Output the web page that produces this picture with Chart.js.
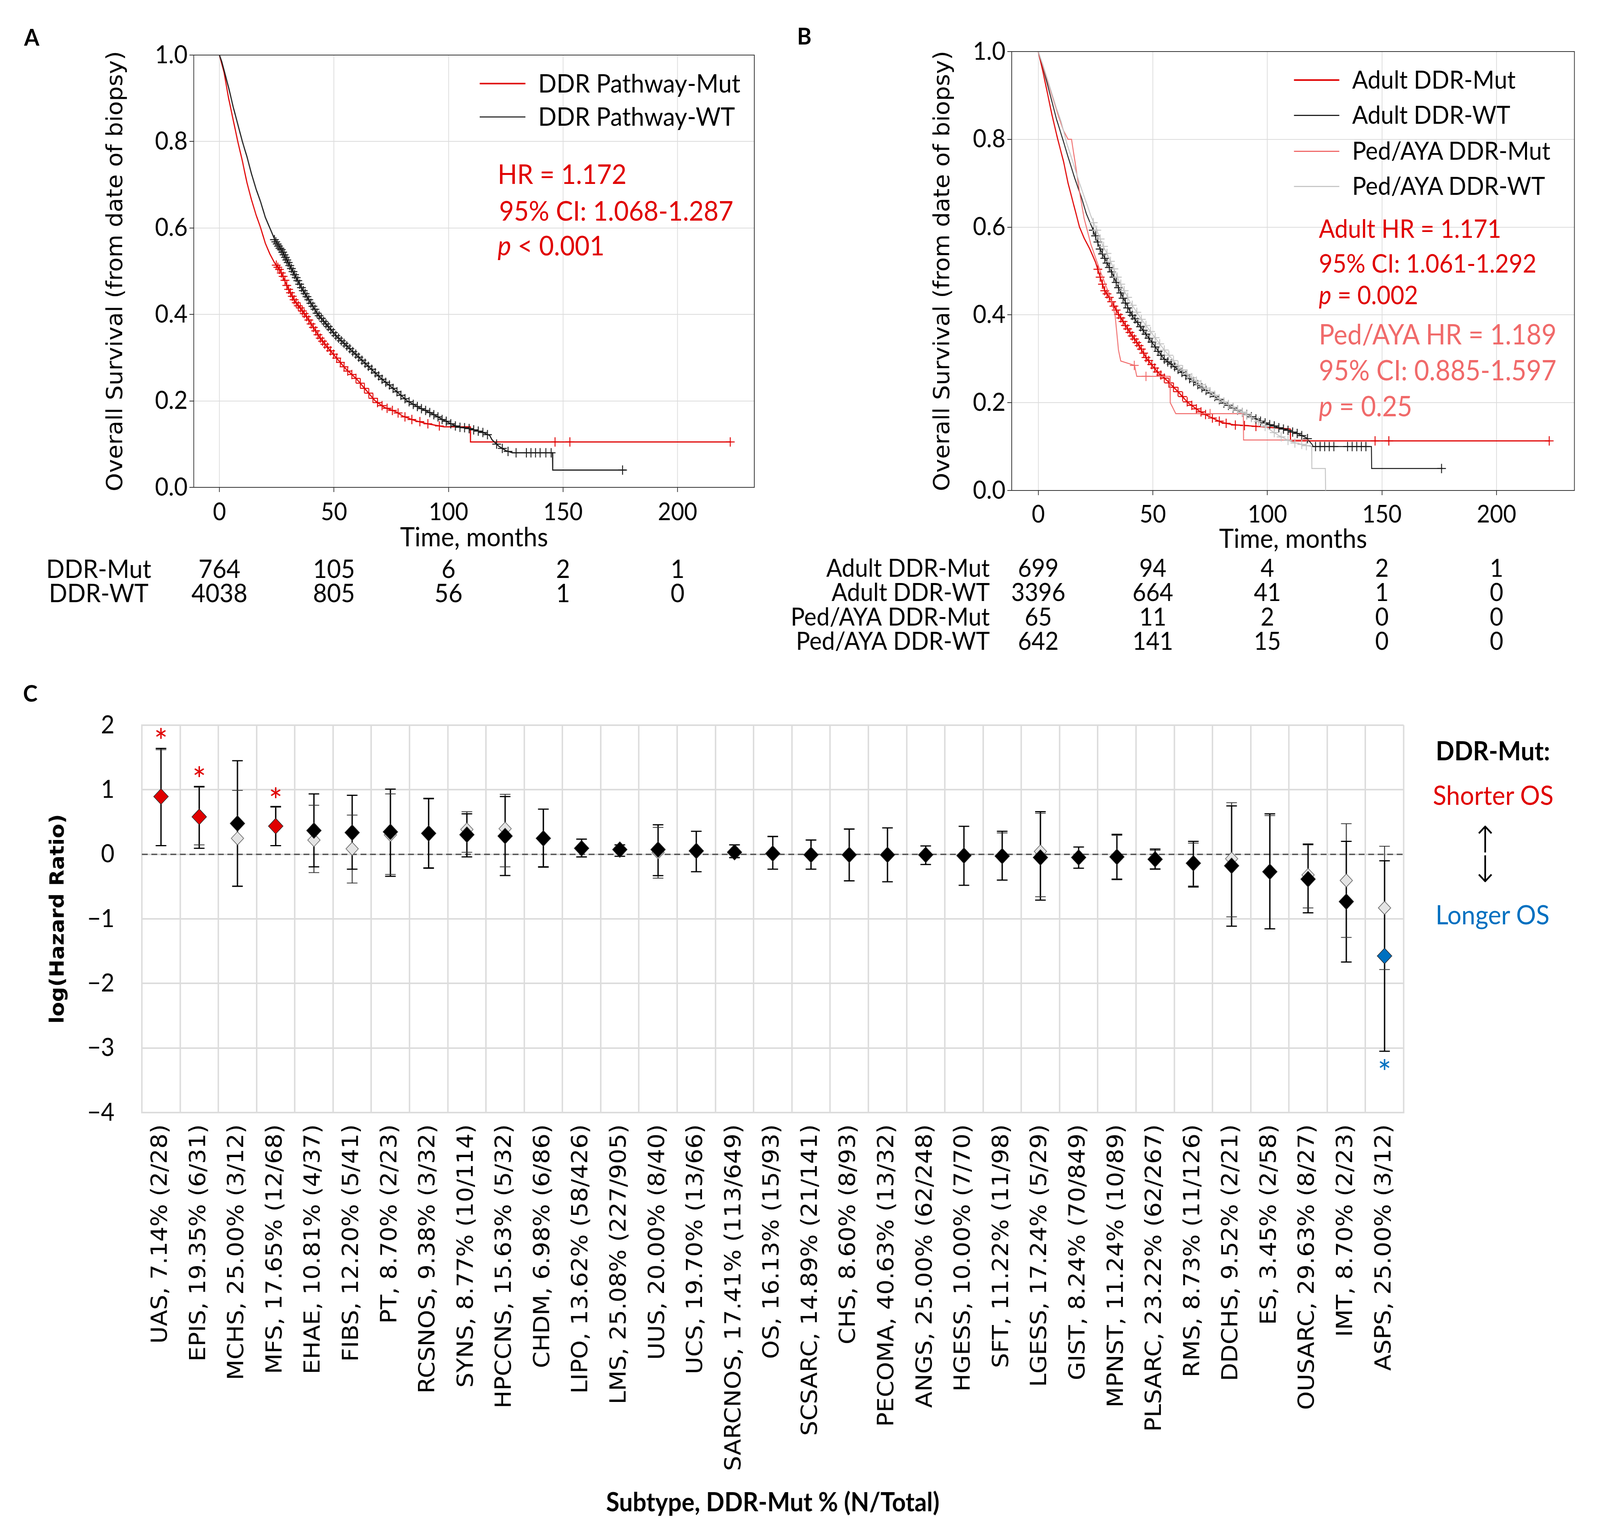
<!DOCTYPE html>
<html><head><meta charset="utf-8">
<script src="https://cdn.jsdelivr.net/npm/chart.js@4.4.1/dist/chart.umd.min.js"></script>
<style>
html,body{margin:0;padding:0;background:#fff;overflow:hidden;}
#wrap{width:4376px;height:3941px;position:absolute;left:0;top:0;overflow:hidden;font-family:Lato,sans-serif;transform-origin:0 0;background:#fff;}
canvas{position:absolute;}
.t{position:absolute;white-space:nowrap;line-height:1;font-family:Lato,sans-serif;}
.ln{position:absolute;}
</style></head><body>
<div id="wrap">
<canvas id="cA" width="2188" height="1700" style="left:0;top:0;width:2188px;height:1700px"></canvas>
<canvas id="cB" width="2288" height="1700" style="left:2088px;top:0;width:2288px;height:1700px"></canvas>
<canvas id="cC" width="4376" height="2201" style="left:0;top:1740px;width:4376px;height:2201px"></canvas>

<div class="t" style="left:66px;top:64px;font-size:60px;font-weight:bold;">A</div>
<div class="t" style="left:2180px;top:61px;font-size:60px;font-weight:bold;">B</div>
<div class="t" style="left:63px;top:1744px;font-size:60px;font-weight:bold;">C</div>

<div class="ln" style="left:1312px;top:212px;width:125px;height:4px;background:#e00000"></div>
<div class="t" style="left:1472px;top:179px;font-size:66px;">DDR Pathway-Mut</div>
<div class="ln" style="left:1312px;top:298px;width:125px;height:3px;background:#333"></div>
<div class="t" style="left:1472px;top:264px;font-size:66px;">DDR Pathway-WT</div>
<div class="t" style="left:1361px;top:409px;font-size:70px;color:#e00000;">HR = 1.172</div>
<div class="t" style="left:1365px;top:503px;font-size:70px;color:#e00000;">95% CI: 1.068-1.287</div>
<div class="t" style="left:1361px;top:592px;font-size:70px;color:#e00000;"><i>p</i> &lt; 0.001</div>

<div class="ln" style="left:3539px;top:203px;width:124px;height:4px;background:#e00000"></div>
<div class="t" style="left:3698px;top:171px;font-size:64px;">Adult DDR-Mut</div>
<div class="ln" style="left:3539px;top:294px;width:124px;height:3px;background:#222"></div>
<div class="t" style="left:3698px;top:261px;font-size:64px;">Adult DDR-WT</div>
<div class="ln" style="left:3539px;top:386px;width:124px;height:3px;background:#f06a6a"></div>
<div class="t" style="left:3698px;top:353px;font-size:64px;">Ped/AYA DDR-Mut</div>
<div class="ln" style="left:3539px;top:476px;width:124px;height:3px;background:#c8c8c8"></div>
<div class="t" style="left:3698px;top:443px;font-size:64px;">Ped/AYA DDR-WT</div>
<div class="t" style="left:3607px;top:552px;font-size:65px;color:#e00000;">Adult HR = 1.171</div>
<div class="t" style="left:3607px;top:641px;font-size:65px;color:#e00000;">95% CI: 1.061-1.292</div>
<div class="t" style="left:3607px;top:722px;font-size:65px;color:#e00000;"><i>p</i> = 0.002</div>
<div class="t" style="left:3607px;top:819px;font-size:71px;color:#f06a6a;">Ped/AYA HR = 1.189</div>
<div class="t" style="left:3607px;top:911px;font-size:71px;color:#f06a6a;">95% CI: 0.885-1.597</div>
<div class="t" style="left:3607px;top:1003px;font-size:71px;color:#f06a6a;"><i>p</i> = 0.25</div>

<div class="t" style="left:3783px;width:600px;text-align:center;top:1888px;font-size:67px;font-weight:bold;">DDR-Mut:</div>
<div class="t" style="left:3784px;width:600px;text-align:center;top:2001px;font-size:68px;color:#e00000;">Shorter OS</div>
<div class="t" style="left:3762px;width:600px;text-align:center;top:2104px;font-size:94px;font-family:'DejaVu Sans',sans-serif;font-weight:200;">↑</div>
<div class="t" style="left:3762px;width:600px;text-align:center;top:2180px;font-size:94px;font-family:'DejaVu Sans',sans-serif;font-weight:200;">↓</div>
<div class="t" style="left:3782px;width:600px;text-align:center;top:2307px;font-size:68px;color:#0070c0;">Longer OS</div>
</div>

<script>
// fit the 4376x3941 layout exactly to the actual viewport
(function () {
  const sx = window.innerWidth / 4376, sy = window.innerHeight / 3941;
  if (Math.abs(sx - 1) > 0.002 || Math.abs(sy - 1) > 0.002) {
    document.getElementById('wrap').style.transform = 'scale(' + sx + ',' + sy + ')';
  }
})();

const kmXTicks = [0, 50, 100, 150, 200];
const kmYTicks = [0, 0.2, 0.4, 0.6, 0.8, 1.0];
const kmXTitle = 'Time, months';
const kmYTitle = 'Overall Survival (from date of biopsy)';

const curveA_mut = [[0,1],[1,0.98],[2,0.96],[4,0.9],[6,0.85],[8,0.8],[10,0.755],[12,0.705],[14,0.665],[16,0.63],[18,0.6],[20,0.565],[22,0.54],[24,0.52],[26.7,0.5],[30,0.46],[33,0.43],[36,0.41],[38,0.395],[41,0.37],[44,0.345],[47,0.325],[51,0.3],[55,0.275],[60,0.25],[64,0.225],[68,0.2],[72,0.185],[77,0.175],[80,0.165],[85,0.155],[90,0.148],[98,0.14],[109.5,0.14],[109.6,0.105],[223,0.105]];
const curveA_wt = [[0,1],[1,0.985],[2,0.965],[4,0.925],[6,0.88],[8,0.84],[10,0.8],[12,0.765],[14,0.725],[16,0.69],[18,0.66],[20,0.625],[22,0.6],[24,0.575],[27,0.55],[30,0.52],[33,0.49],[36,0.46],[40,0.425],[43,0.4],[47,0.375],[51,0.35],[56,0.325],[61,0.3],[66,0.275],[71,0.25],[76,0.228],[82,0.2],[87,0.185],[93,0.17],[98,0.155],[104,0.14],[110,0.135],[115,0.127],[118,0.12],[119,0.11],[122,0.095],[125,0.085],[128,0.08],[145.4,0.08],[145.5,0.04],[177.5,0.04]];
const censorA_mut = [[24.8,0.514],[25.5,0.509],[26.2,0.504],[27,0.496],[27.8,0.488],[28.6,0.479],[29.4,0.467],[30.2,0.458],[31,0.45],[31.8,0.442],[32.6,0.434],[33.5,0.427],[34.4,0.42],[35.3,0.415],[36.2,0.408],[37,0.402],[38,0.395],[39,0.387],[40,0.378],[41,0.37],[42,0.362],[43,0.353],[44,0.345],[45,0.338],[46,0.331],[47.2,0.324],[48.5,0.316],[49.8,0.308],[51.2,0.299],[52.8,0.289],[54.4,0.279],[56,0.269],[57.8,0.261],[59.6,0.252],[61.5,0.241],[63.3,0.229],[65.2,0.218],[67,0.206],[69,0.196],[71,0.189],[73.2,0.183],[75.5,0.178],[78,0.172],[81,0.163],[84,0.157],[87.5,0.152],[91,0.147],[96,0.142],[146.5,0.105],[153,0.105],[223,0.105]];
const censorA_wt = [[24,0.573],[24.6,0.568],[25.2,0.563],[25.8,0.558],[26.4,0.553],[27,0.55],[27.6,0.544],[28.2,0.538],[28.8,0.532],[29.4,0.526],[30,0.52],[30.7,0.513],[31.4,0.506],[32.1,0.499],[32.8,0.492],[33.5,0.485],[34.2,0.478],[35,0.47],[35.8,0.462],[36.6,0.455],[37.4,0.448],[38.2,0.441],[39,0.434],[39.9,0.426],[40.8,0.419],[41.7,0.412],[42.6,0.403],[43.5,0.397],[44.5,0.391],[45.5,0.384],[46.5,0.378],[47.5,0.372],[48.6,0.365],[49.7,0.358],[50.8,0.351],[52,0.345],[53.2,0.339],[54.4,0.333],[55.6,0.327],[56.9,0.321],[58.2,0.314],[59.5,0.308],[60.8,0.301],[62.2,0.294],[63.6,0.287],[65,0.28],[66.5,0.273],[68,0.265],[69.5,0.258],[71,0.25],[72.6,0.243],[74.2,0.237],[75.8,0.229],[77.5,0.221],[79.2,0.213],[81,0.205],[82.8,0.198],[84.6,0.192],[86.4,0.187],[88.2,0.182],[90,0.178],[91.8,0.173],[93.6,0.168],[95.4,0.163],[97.2,0.157],[99,0.153],[101,0.147],[103,0.142],[105,0.139],[107,0.138],[109,0.136],[111,0.133],[113,0.13],[115,0.127],[117,0.122],[121,0.1],[123.5,0.09],[126,0.083],[129.5,0.08],[134,0.08],[136,0.08],[138,0.08],[140,0.08],[142.5,0.08],[144.8,0.08],[176,0.04]];
const riskA_labels = ['DDR-Mut', 'DDR-WT'];
const riskA_mut = [764, 105, 6, 2, 1];
const riskA_wt = [4038, 805, 56, 1, 0];

const curveB_adultMut = [[0,1],[2,0.955],[4,0.905],[6,0.855],[8.5,0.8],[11,0.75],[13,0.7],[15.5,0.65],[18,0.6],[20,0.575],[22.5,0.55],[25,0.52],[27.4,0.48],[29,0.455],[31,0.44],[35.2,0.4],[40,0.36],[44,0.33],[47.4,0.3],[52,0.27],[56.3,0.25],[61,0.225],[65.3,0.2],[70,0.182],[74,0.17],[80,0.155],[85,0.15],[98,0.145],[110,0.14],[110.1,0.113],[223,0.113]];
const curveB_adultWt = [[0,1],[2,0.965],[4,0.925],[6,0.885],[8,0.845],[10.7,0.8],[13,0.76],[16,0.71],[19,0.665],[21,0.63],[23.4,0.6],[27,0.55],[31.8,0.5],[36,0.45],[40.8,0.4],[45,0.37],[50,0.335],[54.8,0.3],[60,0.28],[66,0.255],[72,0.232],[80.8,0.2],[88,0.18],[95,0.163],[100.9,0.15],[107,0.14],[113,0.13],[117,0.12],[119.5,0.105],[120,0.1],[145.4,0.1],[145.5,0.05],[176.5,0.05]];
const curveB_pedMut = [[0,1],[3,0.95],[6,0.9],[9,0.85],[11,0.82],[13,0.8],[14.5,0.8],[16,0.75],[18,0.68],[20,0.62],[23,0.56],[27,0.5],[30,0.46],[32,0.43],[33.5,0.4],[35,0.32],[36,0.295],[42,0.285],[43,0.26],[57.5,0.26],[57.6,0.2],[60,0.175],[89.5,0.175],[89.6,0.115],[118,0.115]];
const curveB_pedWt = [[0,1],[2,0.97],[5,0.92],[8,0.87],[10,0.84],[12.5,0.79],[15,0.75],[18,0.7],[20,0.67],[23,0.625],[25,0.6],[28,0.56],[30,0.54],[33,0.505],[35,0.48],[38,0.45],[40,0.43],[45,0.39],[50,0.355],[55,0.32],[60,0.29],[65,0.265],[70,0.245],[75,0.225],[80,0.205],[85,0.19],[90,0.175],[95,0.16],[100,0.142],[105,0.125],[110,0.112],[115,0.105],[119.3,0.1],[119.4,0.05],[125.3,0.05],[125.4,0]];
const censorB_adultMut = [[26,0.504],[27,0.486],[28,0.47],[29,0.455],[30,0.448],[31,0.44],[32,0.43],[33,0.42],[34,0.411],[35,0.401],[36,0.393],[37,0.385],[38,0.376],[39,0.368],[40,0.36],[41,0.352],[42,0.345],[43,0.337],[44,0.33],[45,0.322],[46,0.313],[47,0.303],[48.2,0.296],[49.5,0.287],[50.8,0.279],[52,0.27],[53.5,0.263],[55,0.256],[57,0.245],[59,0.235],[61,0.225],[63,0.214],[65,0.202],[67,0.194],[69,0.186],[71,0.179],[73,0.173],[76,0.165],[79,0.158],[82,0.153],[86,0.149],[90,0.148],[95,0.146],[147,0.113],[153,0.113],[223,0.113]];
const censorB_adultWt = [[24,0.593],[25,0.58],[26,0.566],[27,0.55],[28,0.539],[29,0.529],[30,0.518],[31,0.508],[32,0.498],[33,0.486],[34,0.474],[35,0.462],[36,0.45],[37,0.438],[38,0.427],[39,0.416],[40,0.406],[41,0.399],[42.2,0.391],[43.4,0.383],[44.6,0.373],[45.8,0.365],[47,0.356],[48.3,0.347],[49.6,0.338],[51,0.327],[52.3,0.317],[53.6,0.308],[55,0.299],[56.5,0.293],[58,0.288],[59.5,0.282],[61,0.276],[62.7,0.269],[64.4,0.262],[66,0.255],[67.8,0.248],[69.6,0.241],[71.4,0.234],[73.2,0.228],[75,0.222],[77,0.214],[79,0.207],[81,0.199],[83,0.194],[85,0.188],[87,0.183],[89,0.178],[91,0.173],[93,0.168],[95,0.163],[97,0.158],[99,0.154],[101,0.15],[103,0.147],[105,0.143],[107,0.14],[109,0.137],[111,0.133],[113,0.13],[115,0.125],[117.5,0.118],[121,0.1],[123,0.1],[125,0.1],[127,0.1],[129,0.1],[135,0.1],[137,0.1],[139,0.1],[141,0.1],[143,0.1],[176,0.05]];
const censorB_pedMut = [[41.9,0.285],[47,0.26],[75,0.175]];
const censorB_pedWt = [[24,0.61],[25.5,0.593],[27,0.573],[28.5,0.556],[30,0.54],[31.5,0.522],[33,0.505],[34.5,0.486],[36,0.47],[37.5,0.455],[39,0.44],[41,0.422],[43,0.406],[45,0.39],[47,0.376],[49,0.362],[51,0.348],[53,0.334],[55,0.32],[57,0.308],[59,0.296],[61,0.285],[63,0.275],[65,0.265],[67,0.257],[69,0.249],[71,0.241],[73,0.233],[75,0.225],[77,0.217],[79,0.209],[81,0.202],[83,0.196],[85,0.19],[87,0.184],[89,0.178],[91,0.172],[93,0.166],[96,0.157],[99,0.146],[103,0.132],[106,0.122],[109,0.114],[112,0.108],[115,0.105],[117,0.102]];
const riskB_labels = ['Adult DDR-Mut', 'Adult DDR-WT', 'Ped/AYA DDR-Mut', 'Ped/AYA DDR-WT'];
const riskB_adultMut = [699, 94, 4, 2, 1];
const riskB_adultWt = [3396, 664, 41, 1, 0];
const riskB_pedMut = [65, 11, 2, 0, 0];
const riskB_pedWt = [642, 141, 15, 0, 0];

const subtypes = ['UAS, 7.14% (2/28)','EPIS, 19.35% (6/31)','MCHS, 25.00% (3/12)','MFS, 17.65% (12/68)','EHAE, 10.81% (4/37)','FIBS, 12.20% (5/41)','PT, 8.70% (2/23)','RCSNOS, 9.38% (3/32)','SYNS, 8.77% (10/114)','HPCCNS, 15.63% (5/32)','CHDM, 6.98% (6/86)','LIPO, 13.62% (58/426)','LMS, 25.08% (227/905)','UUS, 20.00% (8/40)','UCS, 19.70% (13/66)','SARCNOS, 17.41% (113/649)','OS, 16.13% (15/93)','SCSARC, 14.89% (21/141)','CHS, 8.60% (8/93)','PECOMA, 40.63% (13/32)','ANGS, 25.00% (62/248)','HGESS, 10.00% (7/70)','SFT, 11.22% (11/98)','LGESS, 17.24% (5/29)','GIST, 8.24% (70/849)','MPNST, 11.24% (10/89)','PLSARC, 23.22% (62/267)','RMS, 8.73% (11/126)','DDCHS, 9.52% (2/21)','ES, 3.45% (2/58)','OUSARC, 29.63% (8/27)','IMT, 8.70% (2/23)','ASPS, 25.00% (3/12)'];
const hrMain =     [0.895, 0.58, 0.478, 0.437, 0.368, 0.336, 0.348, 0.324, 0.304, 0.283, 0.247, 0.093, 0.073, 0.073, 0.053, 0.032, 0.012, -0.008, -0.008, -0.008, -0.008, -0.02, -0.028, -0.049, -0.049, -0.04, -0.077, -0.138, -0.178, -0.27, -0.385, -0.733, -1.575];
const ciLowMain =  [0.134, 0.093, -0.494, 0.134, -0.194, -0.23, -0.34, -0.21, -0.04, -0.328, -0.198, -0.04, -0.03, -0.33, -0.27, -0.05, -0.23, -0.23, -0.41, -0.425, -0.158, -0.48, -0.40, -0.71, -0.215, -0.39, -0.23, -0.506, -1.113, -1.154, -0.907, -1.668, -3.05];
const ciHighMain = [1.64, 1.05, 1.45, 0.74, 0.935, 0.915, 1.01, 0.862, 0.627, 0.895, 0.70, 0.235, 0.146, 0.457, 0.356, 0.146, 0.275, 0.22, 0.39, 0.41, 0.13, 0.433, 0.356, 0.66, 0.113, 0.31, 0.081, 0.2, 0.75, 0.627, 0.158, 0.2, -0.1];
const hrSub =      [0.895, 0.60, 0.247, 0.437, 0.22, 0.085, 0.30, 0.32, 0.385, 0.397, 0.247, 0.09, null, 0.03, null, 0.032, 0.012, -0.008, -0.008, null, null, null, -0.028, 0.045, null, -0.04, -0.077, -0.138, -0.069, -0.27, -0.32, -0.405, -0.83];
const ciLowSub =   [0.134, 0.146, -0.50, 0.134, -0.283, -0.445, -0.312, -0.22, 0.032, -0.194, -0.19, -0.045, null, -0.37, null, -0.055, -0.23, -0.23, -0.415, null, null, null, -0.40, -0.656, null, -0.38, -0.223, -0.49, -0.968, -1.154, -0.83, -1.287, -1.785];
const ciHighSub =  [1.62, 1.04, 0.99, 0.73, 0.76, 0.607, 0.935, 0.87, 0.66, 0.93, 0.70, 0.232, null, 0.417, null, 0.146, 0.28, 0.225, 0.395, null, null, null, 0.33, 0.636, null, 0.295, 0.061, 0.174, 0.8, 0.60, 0.146, 0.474, 0.125];
const markerKind = ['up','up','ns','up','ns','ns','ns','ns','ns','ns','ns','ns','ns','ns','ns','ns','ns','ns','ns','ns','ns','ns','ns','ns','ns','ns','ns','ns','ns','ns','ns','ns','down'];
const sigY = [1.86, 1.27, null, 0.94, null, null, null, null, null, null, null, null, null, null, null, null, null, null, null, null, null, null, null, null, null, null, null, null, null, null, null, null, -3.27];
const cYTicks = [-4, -3, -2, -1, 0, 1, 2];
const zeroLine = 0;
const cXTitle = 'Subtype, DDR-Mut % (N/Total)';
const cYTitle = 'log(Hazard Ratio)';

const toXY = a => a.map(p => ({x: p[0], y: p[1]}));
const RED = '#e00000', BLUE = '#0070c0', SALMON = '#f06a6a', LGREY = '#c4c4c4', DARK = '#1a1a1a';

const riskPlugin = {
  id: 'riskTable',
  afterDraw(chart, args, opts) {
    if (!opts || !opts.rows) return;
    const ctx = chart.ctx, xs = chart.scales.x;
    ctx.save();
    ctx.font = opts.font; ctx.fillStyle = '#000'; ctx.textBaseline = 'middle';
    opts.rows.forEach((row, r) => {
      const y = opts.rowY[r];
      ctx.textAlign = opts.labelAlign;
      ctx.fillText(row.label, opts.labelX, y);
      ctx.textAlign = 'center';
      row.values.forEach((v, i) => ctx.fillText(String(v), xs.getPixelForValue(opts.times[i]), y));
    });
    ctx.restore();
  }
};
const framePlugin = {
  id: 'frame',
  afterDraw(chart) {
    const {ctx, chartArea: a} = chart;
    ctx.save(); ctx.strokeStyle = '#333'; ctx.lineWidth = 2;
    ctx.beginPath(); ctx.moveTo(a.left, a.top); ctx.lineTo(a.right, a.top); ctx.lineTo(a.right, a.bottom); ctx.stroke();
    ctx.restore();
  }
};
function curveDS(data, color, w, order) {
  return {data: toXY(data), borderColor: color, borderWidth: w, pointRadius: 0, showLine: true, tension: 0, fill: false, order};
}
function censorDS(data, color, order) {
  return {data: toXY(data), showLine: false, pointStyle: 'cross', pointRadius: 12, pointHoverRadius: 12,
          pointBorderColor: color, pointBorderWidth: 2.5, borderColor: color, order};
}
function kmOptions(cfg) {
  const gridC = '#dcdcdc';
  return {
    responsive: false, animation: false, events: [],
    layout: {padding: {left: 0, top: cfg.top, right: cfg.right, bottom: 0}},
    plugins: {legend: {display: false}, tooltip: {enabled: false}, riskTable: cfg.risk},
    scales: {
      x: {type: 'linear', min: cfg.xmin, max: cfg.xmax,
        afterBuildTicks: s => { s.ticks = kmXTicks.map(v => ({value: v})); },
        afterFit: s => { s.height = cfg.xh; },
        ticks: {font: {family: 'Lato', size: 62}, color: '#000', padding: cfg.xpad, callback: v => String(v)},
        grid: {color: gridC, lineWidth: 2, tickColor: '#333', tickLength: 12, drawTicks: true},
        border: {color: '#333', width: 2},
        title: {display: true, text: kmXTitle, color: '#000', font: {family: 'Lato', size: 68, lineHeight: 1}, padding: {top: 0, bottom: cfg.xtpad}}
      },
      y: {type: 'linear', min: 0, max: 1,
        afterBuildTicks: s => { s.ticks = kmYTicks.map(v => ({value: v})); },
        afterFit: s => { s.width = cfg.yw; },
        ticks: {font: {family: 'Lato', size: 64}, color: '#000', padding: 5, callback: v => Number(v).toFixed(1)},
        grid: {color: gridC, lineWidth: 2, tickColor: '#333', tickLength: 12, drawTicks: true},
        border: {color: '#333', width: 2},
        title: {display: true, text: kmYTitle, color: '#000', font: {family: 'DejaVu Sans', size: 60, lineHeight: 1}, padding: {top: cfg.ytpad, bottom: 0}}
      }
    }
  };
}

new Chart(document.getElementById('cA'), {
  type: 'line',
  data: {datasets: [
    curveDS(curveA_wt, DARK, 3, 1), censorDS(censorA_wt, DARK, 1),
    curveDS(curveA_mut, RED, 3, 2), censorDS(censorA_mut, RED, 2)
  ]},
  options: kmOptions({top: 141, right: 125, xmin: -11.2, xmax: 233.5, xh: 452, xpad: 15, xtpad: 289, yw: 530, ytpad: 288,
    risk: {font: '66px Lato', labelX: 270, labelAlign: 'center', rowY: [1459, 1521], times: kmXTicks,
      rows: [{label: riskA_labels[0], values: riskA_mut}, {label: riskA_labels[1], values: riskA_wt}]}}),
  plugins: [riskPlugin, framePlugin]
});

// canvas B starts at x=2088 so that the long risk-table labels can extend left
new Chart(document.getElementById('cB'), {
  type: 'line',
  data: {datasets: [
    curveDS(curveB_pedWt, LGREY, 2.5, 1), censorDS(censorB_pedWt, LGREY, 1),
    curveDS(curveB_pedMut, SALMON, 2.5, 2), censorDS(censorB_pedMut, SALMON, 2),
    curveDS(curveB_adultWt, DARK, 2.5, 3), censorDS(censorB_adultWt, DARK, 3),
    curveDS(curveB_adultMut, RED, 3, 4), censorDS(censorB_adultMut, RED, 4)
  ]},
  options: kmOptions({top: 132, right: 70, xmin: -11.6, xmax: 234, xh: 444, xpad: 13, xtpad: 285, yw: 679, ytpad: 462,
    risk: {font: '64px Lato', labelX: 619, labelAlign: 'right', rowY: [1456, 1518, 1581, 1643], times: kmXTicks,
      rows: [{label: riskB_labels[0], values: riskB_adultMut}, {label: riskB_labels[1], values: riskB_adultWt},
             {label: riskB_labels[2], values: riskB_pedMut}, {label: riskB_labels[3], values: riskB_pedWt}]}}),
  plugins: [riskPlugin, framePlugin]
});

const zeroPlugin = {
  id: 'zeroLine',
  beforeDatasetsDraw(chart) {
    const {ctx, chartArea: a, scales: {y}} = chart;
    const py = y.getPixelForValue(zeroLine);
    ctx.save(); ctx.setLineDash([16, 10]); ctx.strokeStyle = '#555'; ctx.lineWidth = 3.5;
    ctx.beginPath(); ctx.moveTo(a.left, py); ctx.lineTo(a.right, py); ctx.stroke(); ctx.restore();
  }
};
const sigPlugin = {
  id: 'sig',
  afterDatasetsDraw(chart) {
    const {ctx, scales: {x, y}} = chart;
    const fs = 88;
    ctx.save(); ctx.font = fs + 'px Lato'; ctx.textAlign = 'center'; ctx.textBaseline = 'alphabetic';
    sigY.forEach((v, i) => {
      if (v == null) return;
      ctx.fillStyle = markerKind[i] === 'down' ? BLUE : RED;
      ctx.fillText('*', x.getPixelForValue(i), y.getPixelForValue(v) + 0.57 * fs);
    });
    ctx.restore();
  }
};
const capDS = (data, color, w, order) => ({type: 'line', data, showLine: false, pointStyle: 'line', pointRadius: 14.5,
  pointHoverRadius: 14.5, pointBorderColor: color, pointBorderWidth: w, borderColor: color, order});
const mainColors = markerKind.map(k => k === 'up' ? RED : k === 'down' ? BLUE : '#000000');

new Chart(document.getElementById('cC'), {
  type: 'bar',
  data: {
    labels: subtypes,
    datasets: [
      {type: 'bar', data: subtypes.map((_, i) => ciLowSub[i] == null ? null : [ciLowSub[i], ciHighSub[i]]),
        backgroundColor: '#333', barThickness: 2, grouped: false, borderWidth: 0, order: 11},
      {type: 'bar', data: subtypes.map((_, i) => [ciLowMain[i], ciHighMain[i]]),
        backgroundColor: '#000', barThickness: 3, grouped: false, borderWidth: 0, order: 10},
      capDS(ciLowSub, '#333', 2, 9), capDS(ciHighSub, '#333', 2, 9),
      capDS(ciLowMain, '#000', 3, 8), capDS(ciHighMain, '#000', 3, 8),
      {type: 'line', data: hrSub, showLine: false, pointStyle: 'rectRot', pointRadius: 17, pointHoverRadius: 17,
        pointBackgroundColor: '#e4e4e4', pointBorderColor: '#555', pointBorderWidth: 1.5, order: 5},
      {type: 'line', data: hrMain, showLine: false, pointStyle: 'rectRot', pointRadius: 20, pointHoverRadius: 20,
        pointBackgroundColor: mainColors, pointBorderColor: '#222', pointBorderWidth: 1.5, order: 1}
    ]
  },
  options: {
    responsive: false, animation: false, events: [],
    layout: {padding: {left: 0, top: 117, right: 537, bottom: 0}},
    plugins: {legend: {display: false}, tooltip: {enabled: false}},
    scales: {
      x: {type: 'category', offset: true,
        afterFit: s => { s.height = 1092; },
        ticks: {font: {family: 'DejaVu Sans', size: 61}, color: '#000', minRotation: 90, maxRotation: 90, autoSkip: false, padding: 30},
        grid: {color: '#dcdcdc', lineWidth: 4, offset: true, drawTicks: false},
        border: {color: '#dcdcdc', width: 4},
        title: {display: true, text: cXTitle, color: '#000', font: {family: 'Lato', size: 66, weight: 'bold', lineHeight: 1}, padding: {top: 0, bottom: 59}}
      },
      y: {type: 'linear', min: -4, max: 2, stacked: false,
        afterBuildTicks: s => { s.ticks = cYTicks.map(v => ({value: v})); },
        afterFit: s => { s.width = 388; },
        ticks: {font: {family: 'Lato', size: 64}, color: '#000', padding: 75, callback: v => v < 0 ? '\u2212' + Math.abs(v) : String(v)},
        grid: {color: '#dcdcdc', lineWidth: 4, drawTicks: false},
        border: {color: '#dcdcdc', width: 4},
        title: {display: true, text: cYTitle, color: '#000', font: {family: 'DejaVu Sans', size: 54, weight: 'bold', lineHeight: 1}, padding: {top: 133, bottom: 0}}
      }
    }
  },
  plugins: [zeroPlugin, sigPlugin]
});
</script>
</body></html>
